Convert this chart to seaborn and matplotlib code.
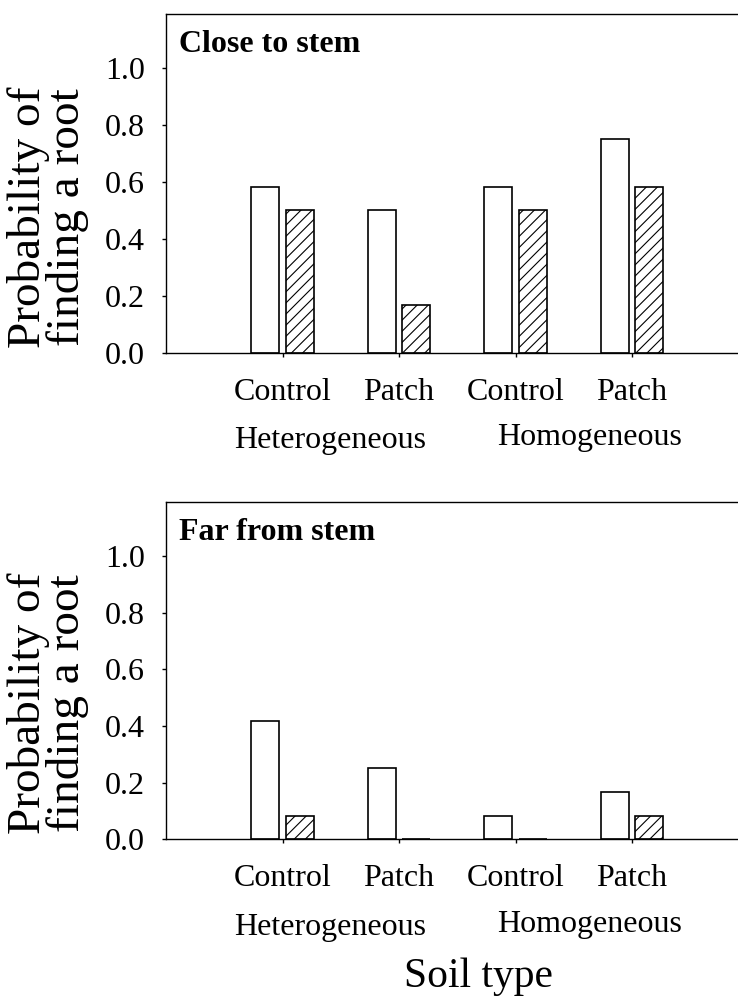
import numpy as np
import pandas as pd
import matplotlib
matplotlib.use("Agg")
import matplotlib.pyplot as plt
import seaborn as sns

# Soil types and treatments (one bar pair per treatment)
soil = ["Heterogeneous", "Heterogeneous", "Homogeneous", "Homogeneous"]
treatment = ["Control", "Patch", "Control", "Patch"]

# Probability of finding a root: open bars (A) and hatched bars (B)
close_a = [0.583, 0.500, 0.583, 0.750]
close_b = [0.500, 0.167, 0.500, 0.583]
far_a = [0.417, 0.250, 0.083, 0.167]
far_b = [0.083, 0.000, 0.000, 0.083]

panel_titles = ["Close to stem", "Far from stem"]
y_ticks = [0.0, 0.2, 0.4, 0.6, 0.8, 1.0]

sns.set_theme(style="white")
plt.rcParams["font.family"] = ["Liberation Serif", "DejaVu Serif"]
plt.rcParams["text.color"] = "black"
plt.rcParams["hatch.color"] = "black"
plt.rcParams["hatch.linewidth"] = 0.8

DPI = 100
W, H = 738, 998
fig = plt.figure(figsize=(W / DPI, H / DPI), dpi=DPI)

cats = [f"{s} {t}" for s, t in zip(soil, treatment)]


def make_frame(a, b):
    return pd.DataFrame({
        "group": cats * 2,
        "series": ["A"] * len(a) + ["B"] * len(b),
        "prob": list(a) + list(b),
    })


def px_axes(left, top, right, bottom):
    return fig.add_axes([left / W, 1 - bottom / H, (right - left) / W, (bottom - top) / H])


panels = [
    (make_frame(close_a, close_b), 13.5, 352.7),
    (make_frame(far_a, far_b), 502.0, 839.3),
]

for i, (df, top, bottom) in enumerate(panels):
    ax = px_axes(166, top, 748.5, bottom)
    sns.barplot(data=df, x="group", y="prob", hue="series", order=cats,
                hue_order=["A", "B"], palette={"A": "white", "B": "white"},
                edgecolor="black", linewidth=1.2, width=0.592, gap=0.176,
                legend=False, ax=ax, errorbar=None, saturation=1)
    n = len(cats)
    for j, p in enumerate(ax.patches):
        if j >= n:
            p.set_hatch("///")
    ax.set_xlim(-1, 4)
    ax.set_ylim(0, 1.19)
    ax.set_yticks(y_ticks)
    ax.set_yticklabels([f"{v:.1f}" for v in y_ticks])
    ax.set_xticks(range(n))
    ax.set_xticklabels(treatment)
    ax.set_xlabel("")
    ax.set_ylabel("")
    ax.tick_params(axis="both", direction="out", length=3, width=1,
                   color="black", labelsize=23, labelcolor="black")
    ax.tick_params(axis="y", pad=12, left=True)
    ax.tick_params(axis="x", pad=15, bottom=True)
    for side in ["left", "bottom", "top"]:
        ax.spines[side].set_visible(True)
        ax.spines[side].set_color("black")
        ax.spines[side].set_linewidth(1.0)
    ax.spines["right"].set_visible(False)

    # panel title, positioned in figure pixels
    fig.text(179 / W, 1 - (top + 38.5) / H, panel_titles[i], fontsize=23,
             fontweight="bold", ha="left", va="baseline")

    off = bottom - 352.7
    fig.text(330 / W, 1 - (448 + off) / H, "Heterogeneous", fontsize=23,
             ha="center", va="baseline")
    fig.text(590 / W, 1 - (445 + off) / H, "Homogeneous", fontsize=23,
             ha="center", va="baseline")

    fig.text(48 / W, 1 - (217 + off) / H, "Probability of\nfinding a root",
             rotation=90, fontsize=34, ha="center", va="center",
             multialignment="center", linespacing=0.85)

fig.text(479 / W, 1 - 987 / H, "Soil type", fontsize=30, ha="center",
         va="baseline")

fig.savefig("out.png", dpi=DPI)
